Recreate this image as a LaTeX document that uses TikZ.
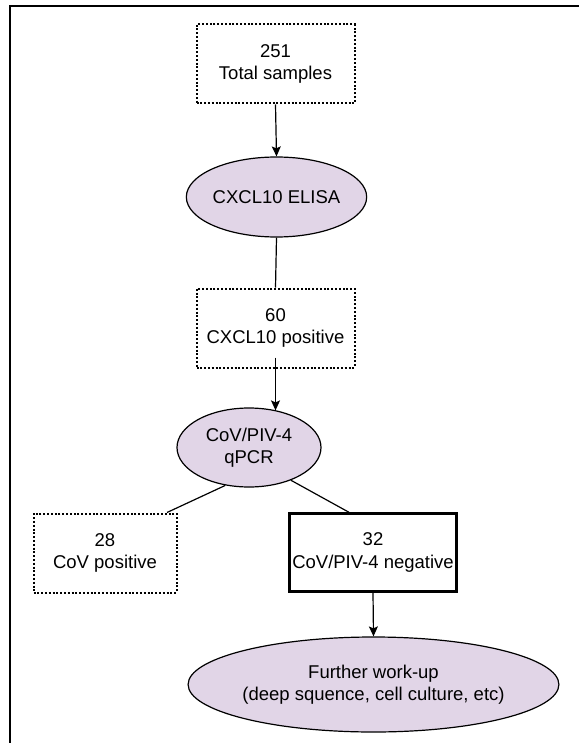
\documentclass[tikz,border=0pt]{standalone}
\usepackage{fontspec}
\setmainfont{Liberation Sans}
\usetikzlibrary{shapes.geometric,arrows.meta,calc}
\definecolor{lav}{HTML}{E1D5E7}
\begin{document}
\begin{tikzpicture}[x=1pt,y=-1pt,
  every node/.style={font=\fontsize{18.5}{22.5}\selectfont, align=center, inner sep=0pt},
  dotbox/.style={draw, line width=2pt, dash pattern=on 2pt off 1.8pt, minimum width=158pt, minimum height=79pt},
  solidbox/.style={draw, line width=2.4pt, minimum width=167pt, minimum height=78pt},
  oval/.style={ellipse, draw, line width=1.2pt, fill=lav},
  conn/.style={line width=1.2pt},
  arr/.style={line width=1.2pt, -{Stealth[length=10pt,width=9pt,inset=2pt]}}]
\useasboundingbox (0,0) rectangle (579,743);
\draw[line width=2pt] (10,743) -- (10,6) -- (579,6);
\node[dotbox] (b1) at (275.5,64) {251\\Total samples};
\node[oval, minimum width=159pt, minimum height=80pt] (e1) at (276.5,197) {CXCL10 ELISA};
\node[dotbox] (b2) at (275.5,328) {60\\CXCL10 positive};
\node[oval, minimum width=144pt, minimum height=79pt] (e2) at (249,447.5) {CoV/PIV-4\\qPCR};
\node[dotbox, minimum width=143pt, minimum height=79pt] (b3) at (105,553) {28\\CoV positive};
\node[solidbox] (b4) at (373,552.5) {32\\CoV/PIV-4 negative};
\node[oval, minimum width=289pt, minimum height=95pt] (e3) at (373.5,684.5) {Further work-up\\ (deep squence, cell culture, etc)};
\coordinate (b2out) at ($(b2.south)+(0,-11)$);
\coordinate (e2in) at ($(e2.north)+(26.5,3)$);
\draw[arr] (b1.south) -- (e1.north);
\draw[conn] (e1.south) -- (b2.north);
\draw[arr] (b2out) -- (e2in);
\draw[conn] (e2.-122) -- ($(b3.north)+(62,0)$);
\draw[conn] (e2.-38) -- ($(b4.north)+(-24,0)$);
\draw[arr] (b4.south) -- (e3.north);
\end{tikzpicture}
\end{document}
